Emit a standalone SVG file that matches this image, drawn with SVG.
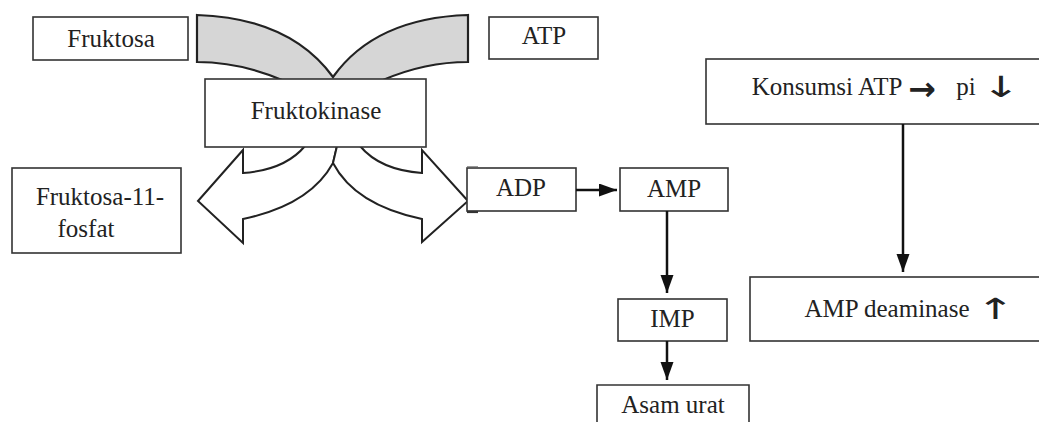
<svg xmlns="http://www.w3.org/2000/svg" width="1039" height="422" viewBox="0 0 1039 422">
<style>
.box{fill:#fff;stroke:#333;stroke-width:1.6}
.t{font-family:"Liberation Serif","Times New Roman",serif;font-size:25px;fill:#222;text-anchor:middle}
.sym{font-family:"DejaVu Sans",sans-serif;fill:#222;text-anchor:middle}
.big{fill:#fff;stroke:#222;stroke-width:2;stroke-linejoin:miter}
.gray{fill:#d6d6d6;stroke:#222;stroke-width:2.2;stroke-linejoin:miter}
.conn{fill:none;stroke:#111;stroke-width:2.5}
</style>
<defs>
<marker id="ah" markerUnits="userSpaceOnUse" markerWidth="19" markerHeight="14" refX="18" refY="6.5" orient="auto">
<path d="M0,0 L18,6.5 L0,13 Z" fill="#111"/>
</marker>
</defs>

<g id="substrate-arrows">
<path class="gray" d="M197,15 Q290,18 333,77 Q375,18 468,15 L468,62 Q425,62 383,80 L282,80 Q240,62 197,62 Z"/>
</g>

<g id="fruktosa">
<rect class="box" x="33" y="17" width="155" height="43"/>
<text class="t" x="111" y="47">Fruktosa</text>
</g>

<g id="atp">
<rect class="box" x="489" y="17" width="109" height="42"/>
<text class="t" x="544" y="44">ATP</text>
</g>

<g id="product-arrows">
<path class="big" d="M305,146 Q285,170 243,173 L243,150 L198,201 L243,243 L243,219 Q310,205 333,163 L337,146 Z"/>
<path class="big" d="M337,146 L333,163 Q355,205 422,219 L422,242 L468,201 L422,150 L422,173 Q380,170 360,146 Z"/>
</g>

<g id="fruktokinase">
<rect class="box" x="205" y="79" width="221" height="68"/>
<text class="t" x="316" y="119">Fruktokinase</text>
</g>

<g id="fruktosa-11-fosfat">
<rect class="box" x="12" y="168" width="169" height="85"/>
<text class="t" x="100" y="205">Fruktosa-11-</text>
<text class="t" x="86" y="237">fosfat</text>
</g>

<g id="adp">
<rect class="box" x="467" y="168" width="109" height="43"/>
<path d="M467,166.5 L478,166.5" stroke="#999" stroke-width="1"/>
<path d="M467,212 L478,212" stroke="#333" stroke-width="2.2"/>
<text class="t" x="521" y="196">ADP</text>
</g>

<g id="amp">
<rect class="box" x="620" y="168" width="108" height="43"/>
<text class="t" x="674" y="197">AMP</text>
</g>

<g id="imp">
<rect class="box" x="618" y="299" width="109" height="42"/>
<text class="t" x="672.5" y="327">IMP</text>
</g>

<g id="asam-urat">
<path class="box" d="M597,423 L597,385 L749,385 L749,423"/>
<text class="t" x="673" y="413">Asam urat</text>
</g>

<g id="konsumsi-atp">
<rect class="box" x="706" y="59" width="360" height="65"/>
<text class="t" x="827" y="95">Konsumsi ATP</text>
<text class="sym" x="922" y="100" font-size="33" font-weight="bold">→</text>
<text class="t" x="966" y="95">pi</text>
<text class="sym" transform="translate(1001,97) scale(1.6,1)" x="0" y="0" font-size="29">↓</text>
</g>

<g id="amp-deaminase">
<rect class="box" x="750" y="277" width="320" height="64"/>
<text class="t" x="887" y="317">AMP deaminase</text>
<text class="sym" transform="translate(995.5,319) scale(1.6,1)" x="0" y="0" font-size="29">↑</text>
</g>

<g id="connectors">
<line class="conn" x1="576" y1="190" x2="617" y2="190" marker-end="url(#ah)"/>
<line class="conn" x1="667" y1="211" x2="667" y2="293" marker-end="url(#ah)"/>
<line class="conn" x1="667" y1="341" x2="667" y2="380" marker-end="url(#ah)"/>
<line class="conn" x1="903" y1="124" x2="903" y2="272" marker-end="url(#ah)"/>
</g>
</svg>
